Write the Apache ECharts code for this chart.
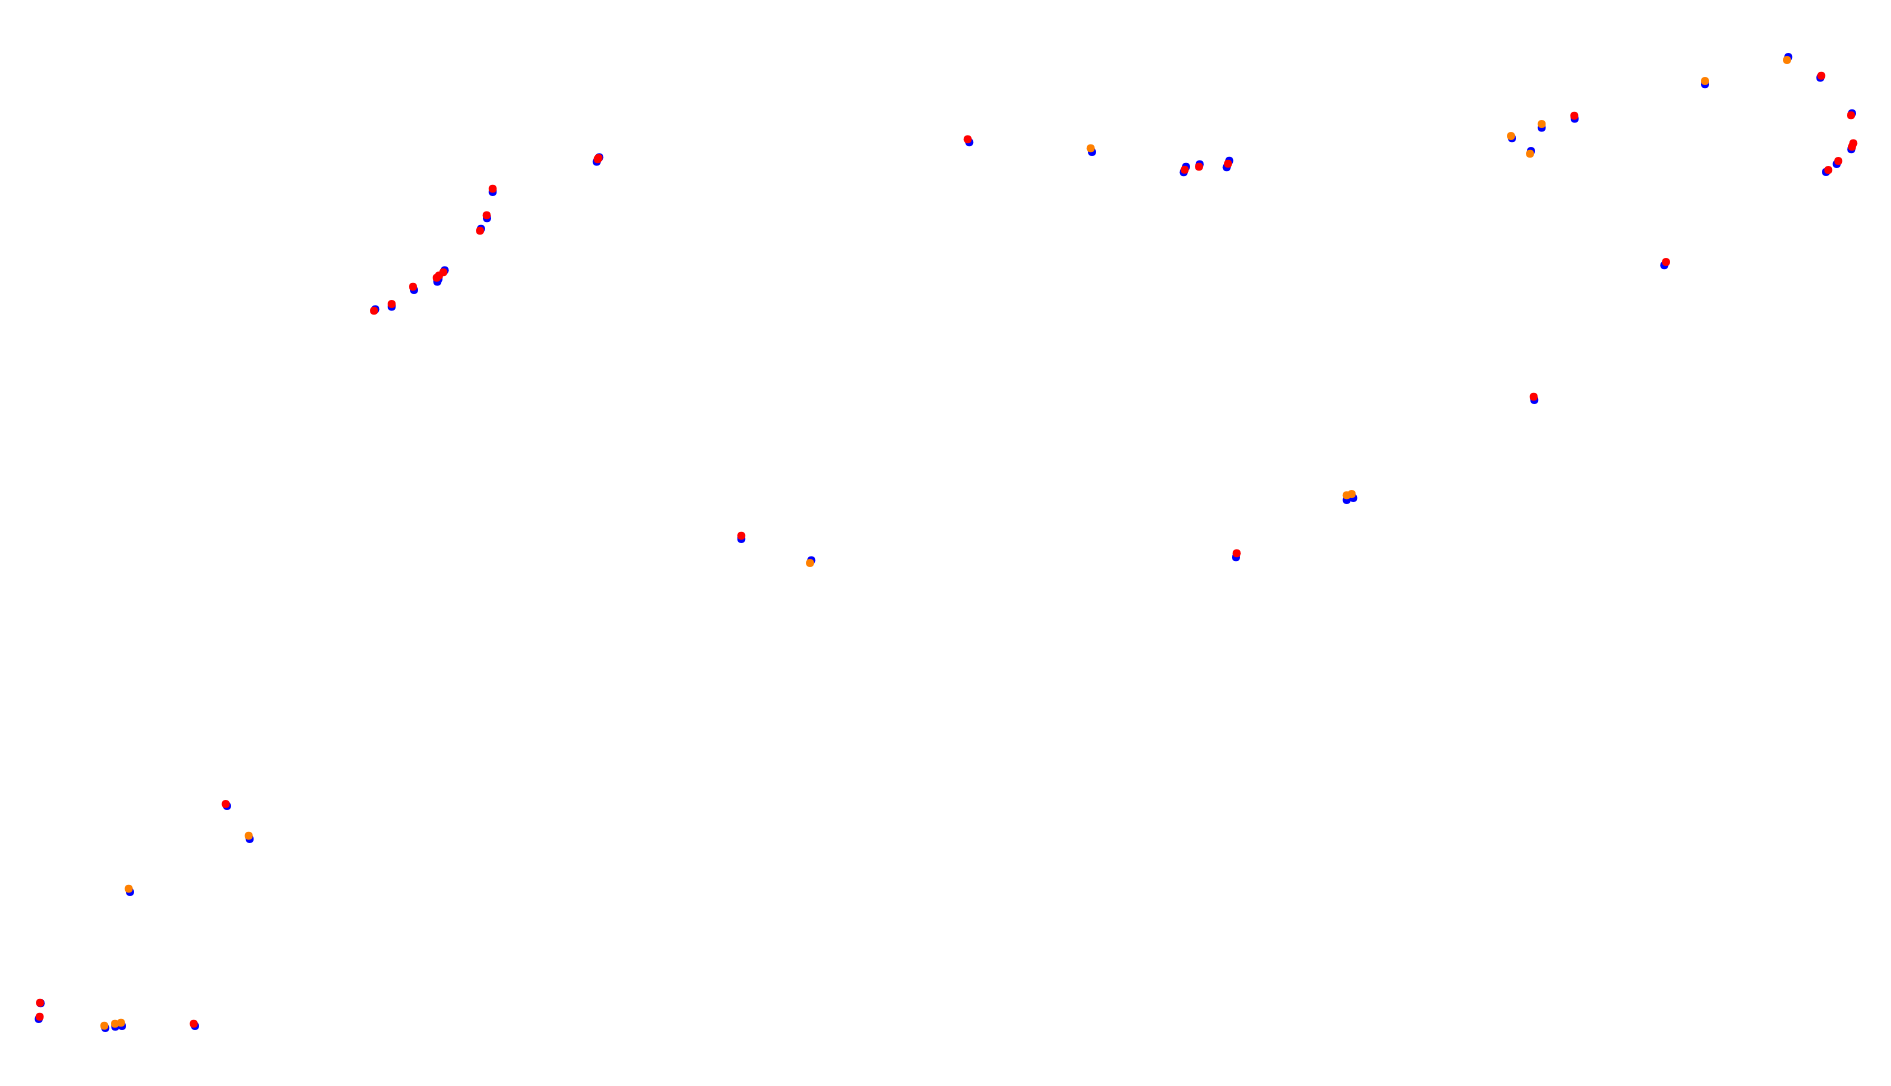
<!DOCTYPE html>
<html>
<head>
<meta charset="utf-8">
<style>html,body{margin:0;padding:0;background:#fff;}#chart{width:1891px;height:1086px;}</style>
<script src="https://cdn.jsdelivr.net/npm/echarts@6/dist/echarts.min.js"></script>
</head>
<body>
<div id="chart"></div>
<script>
// Track positions (x to the right, y measured downward)
const bluePoints = [
  [227,806],[249.7,839],[130,892],[40.7,1003.3],[38.7,1019],[105.3,1028],[115.3,1026.7],[122,1026],[195,1026],
  [375.3,309.3],[391.7,306.7],[414,290],[437.3,281.7],[438.5,279],[444.7,270.3],[481,228.7],[487,218.3],[492.7,192],
  [599.3,157.3],[596.7,161.7],[741.3,539],[811.3,560.3],[969.3,142.3],[1092,152],
  [1183.7,172.3],[1186,166.7],[1199.7,164.3],[1226.7,167.3],[1229.3,160.7],[1236,557.3],
  [1346.7,500],[1353.3,498],[1512,138.3],[1531,151],[1541.7,127.7],[1574.7,118.7],[1534.3,400],
  [1664.3,265.3],[1705,84.3],[1788.3,57],[1820.3,77.7],[1852,113.3],[1851.3,149.3],[1836.7,164],[1826,172]
];
const orangePoints = [
  [248.7,835.7],[128.7,888.7],[104.3,1025.7],[115,1023.7],[121,1022.7],[810,563],[1090.7,148.3],
  [1346.7,495.3],[1351.7,494],[1511,136],[1530,153.7],[1541.7,124],[1705,81],[1787,60]
];
const redPoints = [
  [225.7,804],[40,1002.7],[39.7,1016.7],[193.7,1023.7],[374,310.7],[391.7,304],[413,286.7],[436.7,277.7],
  [439,275.5],[443.3,272.3],[480,230.7],[486.7,215.3],[492.7,188.7],[597.7,159.3],[598.5,158],
  [741.3,535.7],[967.7,139.3],[1184.7,169.7],[1199,166.7],[1228,163.7],[1236.7,553.3],[1574.3,115.7],
  [1533.7,396.7],[1666,262],[1821.3,75.7],[1851,115.3],[1852,146.7],[1853.3,143.3],[1838.3,161],[1828.3,170]
];

const chart = echarts.init(document.getElementById('chart'), null, {renderer: 'canvas'});
chart.setOption({
  animation: false,
  backgroundColor: '#ffffff',
  grid: {left: 0, right: 0, top: 0, bottom: 0},
  xAxis: {type: 'value', min: 0, max: 1891, show: false},
  yAxis: {type: 'value', min: 0, max: 1086, inverse: true, show: false},
  series: [
    {type: 'scatter', data: bluePoints, symbolSize: 8, itemStyle: {color: '#0000ff', opacity: 1}, z: 1},
    {type: 'scatter', data: orangePoints, symbolSize: 8, itemStyle: {color: '#ff8000', opacity: 1}, z: 2},
    {type: 'scatter', data: redPoints, symbolSize: 8, itemStyle: {color: '#ff0000', opacity: 1}, z: 3}
  ]
});
</script>
</body>
</html>
